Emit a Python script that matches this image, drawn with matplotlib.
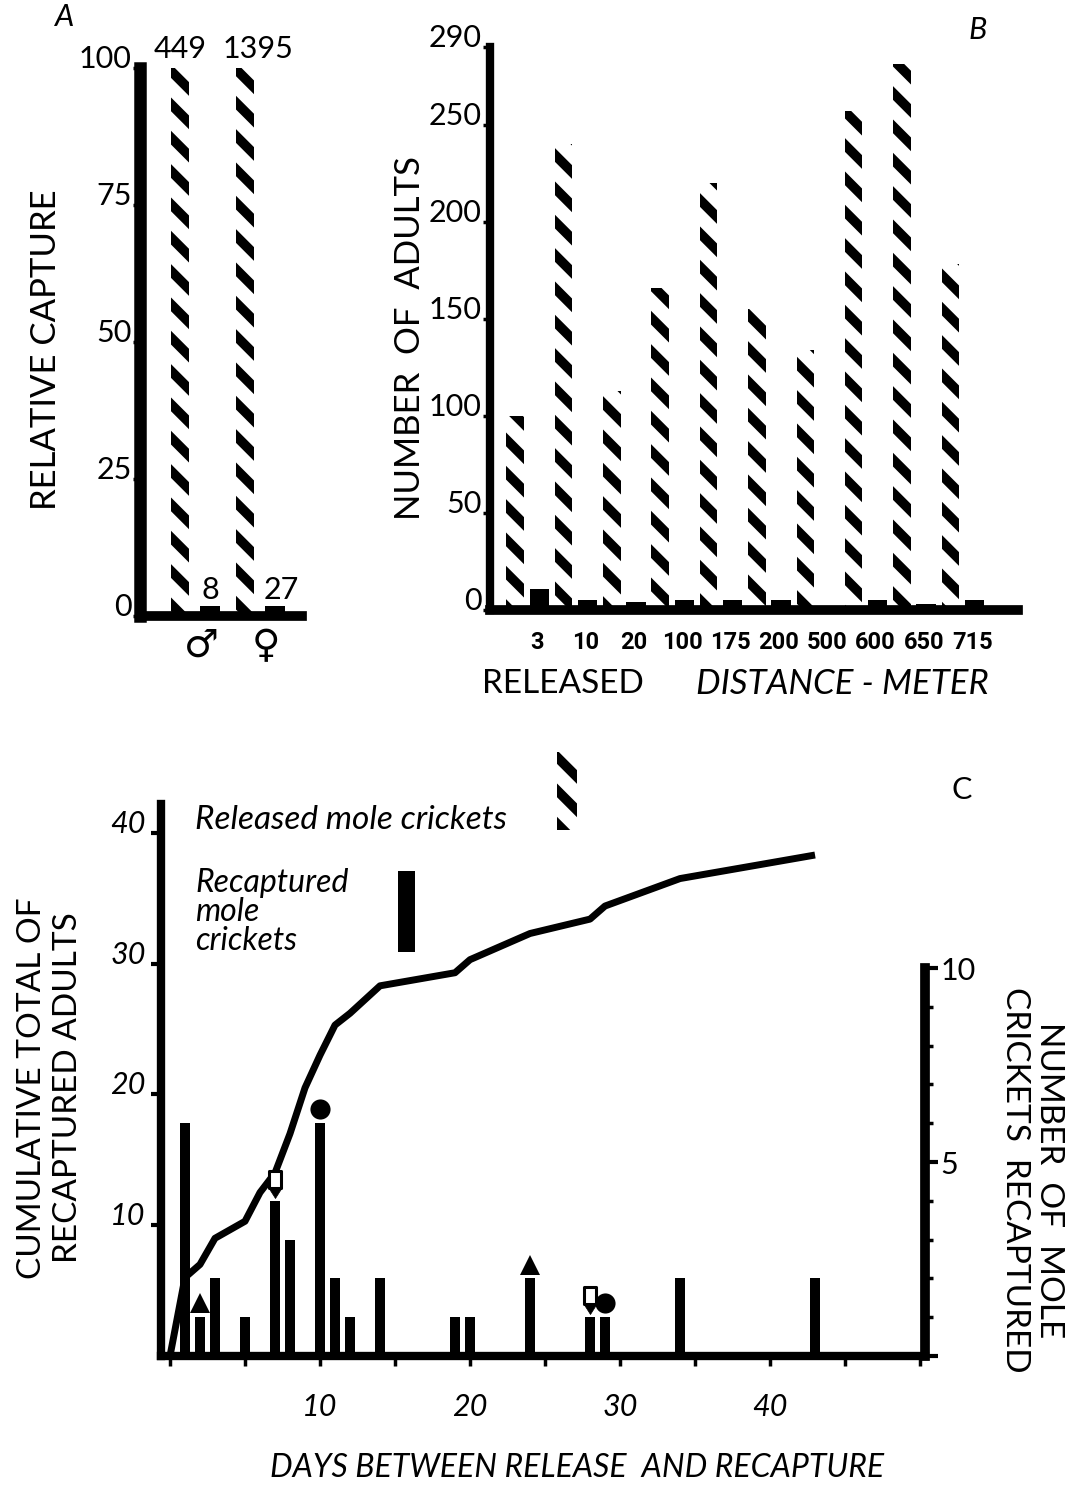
import matplotlib
matplotlib.use('Agg')
import matplotlib.pyplot as plt
import numpy as np
from matplotlib.path import Path
import matplotlib.transforms as mtransforms
from matplotlib.patches import Rectangle

plt.rcParams['font.family'] = ['Lato', 'DejaVu Sans']
plt.rcParams['hatch.linewidth'] = 7.0
plt.rcParams['hatch.color'] = 'black'

# ---------------- data ----------------
sex_labels = ['\u2642', '\u2640']
sex_released_n = [449, 1395]
sex_recaptured_n = [8, 27]
sex_released_rel = [100, 100]
sex_recaptured_rel = [1.8, 1.9]

dist_labels = ['3', '10', '20', '100', '175', '200', '500', '600', '650', '715']
dist_released = [100, 240, 113, 166, 220, 155, 134, 257, 281, 178]
dist_recaptured = [11, 5, 4, 5, 5, 5, 0, 5, 3, 5]

recap_days = [1, 2, 3, 5, 7, 8, 10, 11, 12, 14, 19, 20, 24, 28, 29, 34, 43]
recap_counts = [6, 1, 2, 1, 4, 3, 6, 2, 1, 2, 1, 1, 2, 1, 1, 2, 2]

cum_days = [0, 1, 2, 3, 5, 6, 7, 8, 9, 10, 11, 12, 14, 19, 20, 24, 28, 29, 34, 43]
cum_total = [0, 6, 7, 9, 10.3, 12.5, 14, 17, 20.5, 23, 25.3, 26.2, 28.3, 29.3,
             30.3, 32.3, 33.4, 34.4, 36.5, 38.3]

triangle_days = [2, 24]
circle_days = [10, 29]
tag_days = [7, 28]

W, H = 1088, 1489
fig = plt.figure(figsize=(W / 100, H / 100), dpi=100)


def fx(px):
    return px / W


def fy(py):
    return 1 - py / H


# ---------------- panel A ----------------
axA = fig.add_axes([fx(140), fy(616), fx(302) - fx(140), fy(68) - fy(616)])
xa = np.arange(len(sex_labels))
axA.bar(xa - 0.23, sex_released_rel, width=0.27, color='white', edgecolor='black',
        hatch='\\', linewidth=0)
axA.bar(xa + 0.23, sex_recaptured_rel, width=0.30, color='black', linewidth=0)
axA.set_xlim(-0.85, 1.65)
axA.set_ylim(0, 100)
for s in ['top', 'right']:
    axA.spines[s].set_visible(False)
axA.spines['left'].set_linewidth(9)
axA.spines['bottom'].set_linewidth(7)
axA.set_yticks([0, 25, 50, 75, 100])
axA.tick_params(axis='y', direction='out', length=5, width=2.5, labelsize=22, pad=1)
for t in axA.get_yticklabels():
    t.set_verticalalignment('baseline')
axA.set_xticks(xa + 0.1, sex_labels)
axA.tick_params(axis='x', length=0, labelsize=28, pad=8)
for t in axA.get_xticklabels():
    t.set_fontfamily(['DejaVu Sans'])
for i in range(len(sex_labels)):
    axA.text(xa[i] - 0.23 + [0, 0.2][i], sex_released_rel[i] + 1.0, str(sex_released_n[i]),
             ha='center', va='bottom', fontsize=22)
    axA.text(xa[i] + 0.23 + [0, 0.1][i], sex_recaptured_rel[i] + 0.3, str(sex_recaptured_n[i]),
             ha='center', va='bottom', fontsize=22)
fig.text(fx(46), fy(350), 'RELATIVE CAPTURE', rotation=90, ha='center', va='center',
         fontsize=25)
fig.text(fx(65), fy(17), 'A', ha='center', va='center', fontsize=22, style='italic')

# ---------------- panel B ----------------
axB = fig.add_axes([fx(490), fy(610), fx(1018) - fx(490), fy(47) - fy(610)])
xb = np.arange(len(dist_labels))
axB.bar(xb - 0.25, dist_released, width=0.36, color='white', edgecolor='black',
        hatch='\\', linewidth=0)
axB.bar(xb + 0.25, dist_recaptured, width=0.40, color='black', linewidth=0)
axB.set_xlim(-0.77, 10.15)
axB.set_ylim(0, 290)
for s in ['top', 'right']:
    axB.spines[s].set_visible(False)
axB.spines['left'].set_linewidth(6)
axB.spines['bottom'].set_linewidth(7)
axB.set_yticks([0, 50, 100, 150, 200, 250, 290])
axB.tick_params(axis='y', direction='out', length=5, width=2.5, labelsize=22, pad=1)
for t in axB.get_yticklabels():
    t.set_verticalalignment('baseline')
axB.set_xticks(xb + 0.2, dist_labels)
axB.tick_params(axis='x', length=0, labelsize=17, pad=15)
for t in axB.get_xticklabels():
    t.set_fontfamily(['Roboto', 'DejaVu Sans'])
    t.set_fontweight('bold')
fig.text(fx(410), fy(338), 'NUMBER  OF  ADULTS', rotation=90, ha='center', va='center',
         fontsize=25)
fig.text(fx(563), fy(684), 'RELEASED', ha='center', va='center', fontsize=24)
fig.text(fx(842), fy(684), 'DISTANCE - METER', ha='center', va='center', fontsize=25,
         style='italic')
fig.text(fx(978), fy(30), 'B', ha='center', va='center', fontsize=22, style='italic')

# ---------------- panel C ----------------
axC = fig.add_axes([fx(161), fy(1356), fx(925) - fx(161), fy(804) - fy(1356)])
axR = axC.twinx()
axC.set_xlim(-0.6, 50.33)
axC.set_ylim(0, 42.2)
axR.set_ylim(0, 42.2 / 2.966)

axR.bar(recap_days, recap_counts, width=0.62, color='black', linewidth=0)
axC.plot(cum_days, cum_total, color='black', lw=5, solid_joinstyle='round',
         solid_capstyle='butt')

for s in ['top', 'right']:
    axC.spines[s].set_visible(False)
for s in ['top', 'left', 'bottom']:
    axR.spines[s].set_visible(False)
axC.spines['left'].set_linewidth(6)
axC.spines['bottom'].set_linewidth(6)
axR.spines['right'].set_linewidth(7)
axR.spines['right'].set_bounds(0, 10)

axC.set_yticks([10, 20, 30, 40])
axC.tick_params(axis='y', direction='out', length=7, width=3, labelsize=22, pad=4)
for t in axC.get_yticklabels():
    t.set_style('italic')
    t.set_verticalalignment('baseline')
axC.set_xticks(np.arange(0, 51, 5))
axC.set_xticklabels(['' if (v % 10 or v in (0, 50)) else str(v) for v in range(0, 51, 5)])
axC.tick_params(axis='x', direction='out', length=7, width=2.5, labelsize=22, pad=20)
for t in axC.get_xticklabels():
    t.set_style('italic')

axR.set_yticks([0, 5, 10])
axR.set_yticklabels(['', '5', '10'])
axR.set_yticks(np.arange(1, 10), minor=True)
axR.tick_params(axis='y', which='major', direction='out', length=9, width=3, labelsize=22, pad=2)
axR.tick_params(axis='y', which='minor', direction='out', length=6, width=2.5)
for t in axR.get_yticklabels():
    t.set_verticalalignment('center_baseline')


# markers above bars
def bar_height(d):
    return recap_counts[recap_days.index(d)]


def shifted(ax, pts):
    return ax.transData + mtransforms.ScaledTranslation(0, pts / 72, fig.dpi_scale_trans)


for d in triangle_days:
    axR.plot([d], [bar_height(d)], marker='^', ms=15, color='black', mew=0,
             transform=shifted(axR, 10), clip_on=False, zorder=5)
for d in circle_days:
    axR.plot([d], [bar_height(d)], marker='o', ms=14.5, color='black', mew=0,
             transform=shifted(axR, 10), clip_on=False, zorder=5)

rect_path = Path([(-0.38, 0.0), (0.38, 0.0), (0.38, 1.0), (-0.38, 1.0), (-0.38, 0.0)],
                 [Path.MOVETO, Path.LINETO, Path.LINETO, Path.LINETO, Path.CLOSEPOLY])
tri_path = Path([(0, 1.0), (-0.38, 0.0), (0.38, 0.0), (0.0, -0.6), (-0.38, 0.0)],
                [Path.MOVETO, Path.MOVETO, Path.LINETO, Path.LINETO, Path.CLOSEPOLY])
for d in tag_days:
    axR.plot([d], [bar_height(d)], marker=rect_path, ms=24, mfc='white', mec='black',
             mew=2.2, ls='none', transform=shifted(axR, 9.5), clip_on=False, zorder=6)
    axR.plot([d], [bar_height(d)], marker=tri_path, ms=24, mfc='black', mec='black',
             mew=0.5, ls='none', transform=shifted(axR, 9.5), clip_on=False, zorder=6)

# legend
fig.patches.append(Rectangle((fx(557), fy(830)), fx(577) - fx(557), fy(752) - fy(830),
                             transform=fig.transFigure, facecolor='white', edgecolor='black',
                             hatch='\\', linewidth=0, figure=fig))
fig.patches.append(Rectangle((fx(398), fy(952)), fx(415) - fx(398), fy(871) - fy(952),
                             transform=fig.transFigure, facecolor='black', linewidth=0,
                             figure=fig))
fig.text(fx(195), fy(820), 'Released mole crickets', ha='left', va='center', fontsize=24,
         style='italic')
fig.text(fx(195), fy(868), 'Recaptured\nmole\ncrickets', ha='left', va='top', fontsize=23,
         style='italic', linespacing=0.95)

fig.text(fx(50), fy(1088), 'CUMULATIVE TOTAL OF\nRECAPTURED ADULTS', rotation=90,
         ha='center', va='center', fontsize=24, linespacing=1.25, multialignment='center')
fig.text(fx(1032), fy(1180), 'NUMBER  OF  MOLE\nCRICKETS  RECAPTURED', rotation=270,
         ha='center', va='center', fontsize=24, linespacing=1.2, multialignment='center')
fig.text(fx(577), fy(1468), 'DAYS BETWEEN RELEASE  AND RECAPTURE', ha='center', va='center',
         fontsize=23, style='italic')
fig.text(fx(962), fy(790), 'C', ha='center', va='center', fontsize=22)

fig.savefig('out.png', dpi=100)
